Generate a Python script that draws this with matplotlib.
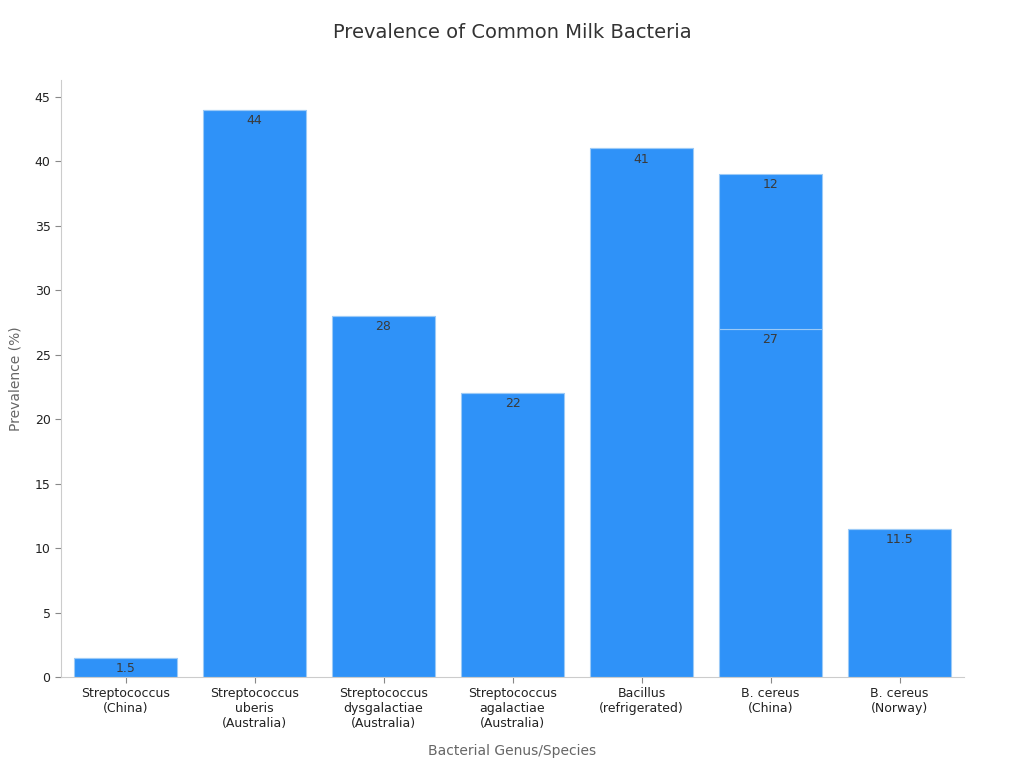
import matplotlib
matplotlib.use("Agg")
import matplotlib.pyplot as plt
import numpy as np

categories = [
    "Streptococcus\n(China)",
    "Streptococcus\nuberis\n(Australia)",
    "Streptococcus\ndysgalactiae\n(Australia)",
    "Streptococcus\nagalactiae\n(Australia)",
    "Bacillus\n(refrigerated)",
    "B. cereus\n(China)",
    "B. cereus\n(Norway)",
]
base_values = [1.5, 44, 28, 22, 41, 27, 11.5]
extra_values = [0, 0, 0, 0, 0, 12, 0]

bar_color = "#2f92f8"
text_color = "#3a3a3a"
grey = "#666666"

plt.rcParams["font.family"] = ["DejaVu Sans"]

fig = plt.figure(figsize=(10.24, 7.68), dpi=100)
ax = fig.add_axes([61 / 1024, 1 - 677 / 768, 903 / 1024, 597 / 768])

x = np.arange(len(categories))
b1 = ax.bar(x, base_values, width=0.8, color=bar_color, edgecolor="#9ccaf7", linewidth=0.8)
b2 = ax.bar(x, extra_values, width=0.8, bottom=base_values, color=bar_color,
            edgecolor="#9ccaf7", linewidth=0.8)

for bars, vals, bottoms in ((b1, base_values, [0] * len(x)), (b2, extra_values, base_values)):
    for rect, v, b in zip(bars, vals, bottoms):
        if v == 0:
            continue
        ax.annotate(f"{v:g}", (rect.get_x() + rect.get_width() / 2, b + v),
                    xytext=(0, -3), textcoords="offset points",
                    ha="center", va="top", fontsize=9, color=text_color)

ax.set_xlim(-0.5, 6.5)
ax.set_ylim(0, 46.3)
ax.set_yticks(np.arange(0, 46, 5))
ax.set_xticks(x)
ax.set_xticklabels(categories, fontsize=9, color="#222222")
ax.tick_params(axis="y", labelsize=9, labelcolor="#222222", color="#888888", length=4)
ax.tick_params(axis="x", color="#888888", length=4)

for side in ("top", "right"):
    ax.spines[side].set_visible(False)
for side in ("left", "bottom"):
    ax.spines[side].set_color("#cccccc")

ax.set_ylabel("Prevalence (%)", fontsize=10, color=grey, labelpad=9)
ax.set_xlabel("Bacterial Genus/Species", fontsize=10, color=grey, labelpad=10)
fig.suptitle("Prevalence of Common Milk Bacteria", fontsize=14, color="#333333", y=1 - 33 / 768, va="center")

fig.savefig("out.png", dpi=100)
